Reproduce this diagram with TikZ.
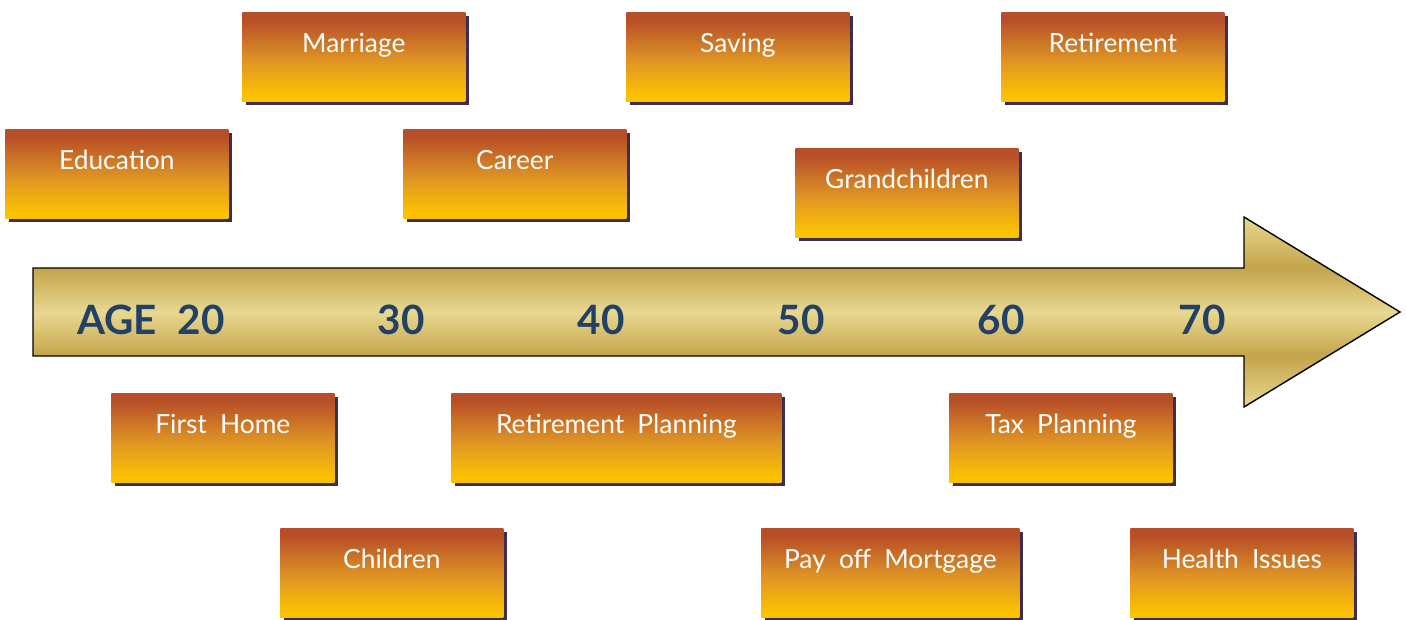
\documentclass[tikz,border=0pt]{standalone}
\usepackage{fontspec}
\setmainfont{Lato}
\usepackage{tikz}
\usetikzlibrary{shadows, positioning}

\definecolor{evtop}{HTML}{B84E28}
\definecolor{evmid}{HTML}{DE9424}
\definecolor{evbot}{HTML}{FCC200}
\definecolor{evshadow}{HTML}{3D2D4F}
\definecolor{goldlight}{HTML}{E8D890}
\definecolor{golddark}{HTML}{C4A44C}
\definecolor{agecol}{HTML}{234066}

% the path covers 25bp--75bp of a 100bp shading
\pgfdeclareverticalshading{eventfill}{100bp}{color(0bp)=(evbot); color(28bp)=(evbot);
  color(48bp)=(evmid); color(71bp)=(evtop); color(100bp)=(evtop)}
\pgfdeclareverticalshading{arrowfill}{100bp}{color(0bp)=(goldlight); color(25bp)=(goldlight);
  color(38.5bp)=(golddark); color(50bp)=(goldlight); color(61.5bp)=(golddark);
  color(75bp)=(goldlight); color(100bp)=(goldlight)}

\begin{document}
\begin{tikzpicture}[x=0.02cm, y=-0.02cm,
    event/.style={anchor=north west, shading=eventfill, text=white,
      minimum width=4.46cm, minimum height=1.78cm, inner ysep=0pt,
      text height=0.8cm, text depth=0.98cm,
      font=\fontsize{15}{18}\selectfont,
      drop shadow={shadow xshift=0.07cm, shadow yshift=-0.07cm, fill=evshadow, opacity=1}},
    age/.style={text=agecol, font=\fontsize{23}{26}\selectfont\bfseries, inner sep=0pt, anchor=base}]
    \useasboundingbox (0,0) rectangle (1406,619);

    % Timeline arrow
    \draw[line width=0.8pt, shading=arrowfill]
      (33,268) -- (1244,268) -- (1244,217) -- (1400,312)
      -- (1244,407) -- (1244,356) -- (33,356) -- cycle;
    \node[age] (agelbl) at (117,334) {AGE};
    \foreach \a/\x in {20/201, 30/401, 40/601, 50/801, 60/1001, 70/1202}
      \node[age] (age\a) at (\x,334) {\a};

    % Events above the line
    \node[event] (education) at (5,129) {Education};
    \node[event] (marriage) at (242,12) {Marriage};
    \node[event] (career) at (403,129) {Career};
    \node[event] (saving) at (626,12) {Saving};
    \node[event] (grandchildren) at (795,148) {Grandchildren};
    \node[event] (retirement) at (1001,12) {Retirement};

    % Events below the line
    \node[event] (firsthome) at (111,393) {First\enspace Home};
    \node[event, minimum width=6.6cm] (retplan) at (451,393) {Retirement\enspace Planning};
    \node[event] (taxplan) at (949,393) {Tax\enspace Planning};
    \node[event] (children) at (280,528) {Children};
    \node[event, minimum width=5.16cm] (mortgage) at (761,528) {Pay\enspace off\enspace Mortgage};
    \node[event] (health) at (1130,528) {Health\enspace Issues};
\end{tikzpicture}
\end{document}
